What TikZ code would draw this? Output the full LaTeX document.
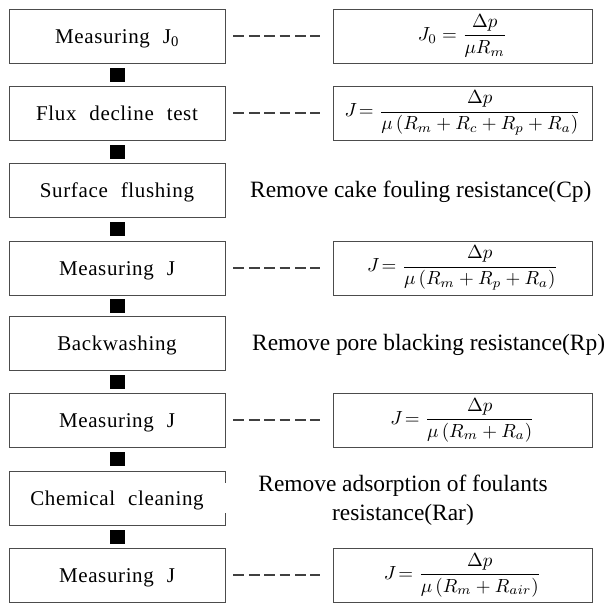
\documentclass[tikz,border=0pt]{standalone}
\usepackage{graphicx}
\usepackage{fontspec}
\setmainfont{Liberation Serif}
\newfontfamily\boxfont[LetterSpace=3,WordSpace=2.2]{Liberation Serif}
\usetikzlibrary{calc}
\newcommand{\eqscale}[1]{\scalebox{1.9}{$\displaystyle #1$}}
\begin{document}
\begin{tikzpicture}[x=1pt,y=-1pt,
  stepbox/.style={draw=black!70, line width=0.9pt, minimum width=216pt, minimum height=54pt, inner sep=0pt, text height=14pt, text depth=0pt, font=\boxfont\fontsize{21}{25}\selectfont},
  eqbox/.style={draw=black!70, line width=0.9pt, minimum width=259pt, minimum height=54pt, inner sep=0pt},
  blk/.style={fill=black, minimum width=15pt, minimum height=14pt, inner sep=0pt},
  dashline/.style={draw=black!75, line width=1.3pt, dash pattern=on 10.7pt off 4.7pt},
  note/.style={font=\fontsize{23.4}{29.5}\selectfont, inner sep=0pt, align=center}]
\useasboundingbox (0,0) rectangle (606,603);
% left step boxes
\node[stepbox] (b1) at (117,36)  {Measuring J\textsubscript{0}};
\node[stepbox] (b2) at (117,113) {Flux decline test};
\node[stepbox] (b3) at (117,190) {Surface flushing};
\node[stepbox] (b4) at (117,268) {Measuring J};
\node[stepbox] (b5) at (117,343) {Backwashing};
\node[stepbox] (b6) at (117,420) {Measuring J};
\node[stepbox] (b7) at (117,498) {Chemical cleaning};
\node[stepbox] (b8) at (117,575) {Measuring J};
% black squares between boxes
\foreach \a/\b [count=\i] in {b1/b2,b2/b3,b3/b4,b4/b5,b5/b6,b6/b7,b7/b8}
  \node[blk] (s\i) at ($(\a.south)!0.5!(\b.north)$) {};
% gap in right edge of chemical cleaning box
\draw[white, line width=2.5pt] ([yshift=-15pt]b7.east) -- ([yshift=15pt]b7.east);
% formula boxes
\node[eqbox] (f1) at (462.5,36)  {\eqscale{J_0=\frac{\Delta p}{\mu R_m}}};
\node[eqbox] (f2) at (462.5,113) {\eqscale{J\mskip-3mu=\frac{\Delta p}{\mu\,(R_m+R_c+R_p+R_a)}}};
\node[eqbox] (f4) at (462.5,268) {\eqscale{J\mskip-3mu=\frac{\Delta p}{\mu\,(R_m+R_p+R_a)}}};
\node[eqbox] (f6) at (462.5,420) {\eqscale{J\mskip-3mu=\frac{\Delta p}{\mu\,(R_m+R_a)}}};
\node[eqbox] (f8) at (462.5,575) {\eqscale{J\mskip-3mu=\frac{\Delta p}{\mu\,(R_m+R_{air})}}};
% dashed connectors
\foreach \i in {1,2,4,6,8}
  \draw[dashline] ([xshift=8pt]b\i.east) -- ([xshift=-13pt]f\i.west);
% notes
\node[note, anchor=base west] (n3) at (250,197.7) {Remove cake fouling resistance(Cp)};
\node[note, anchor=base west] (n5) at (252,350) {Remove pore blacking resistance(Rp)};
\node[note] (n7) at (403,500) {Remove adsorption of foulants\\resistance(Rar)};
\end{tikzpicture}
\end{document}
